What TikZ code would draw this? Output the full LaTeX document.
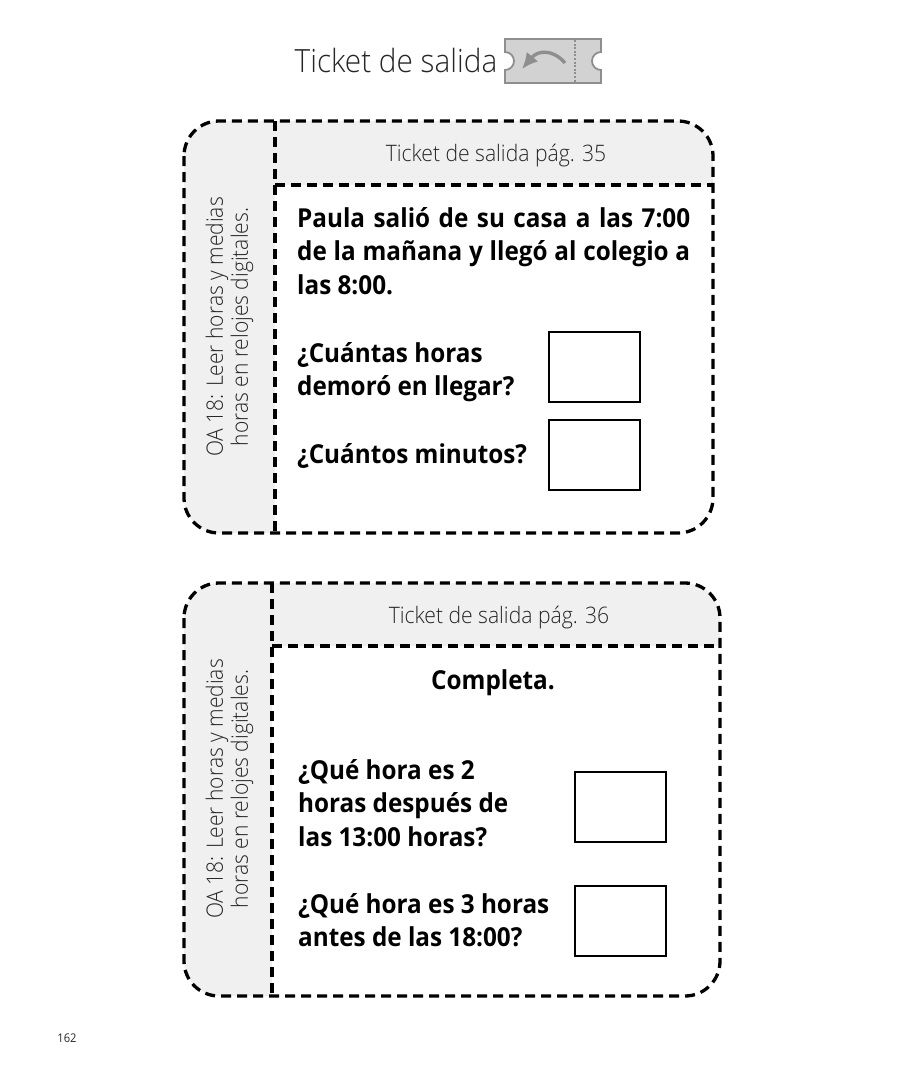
\documentclass[tikz,border=0pt]{standalone}
\usepackage{fontspec}
\setmainfont[FakeStretch=0.93]{Open Sans}
\newfontfamily\lightfont[FakeStretch=0.93]{Open Sans Light}
\usetikzlibrary{arrows.meta}
\definecolor{panelgray}{HTML}{F0F0F0}
\definecolor{ticketgray}{HTML}{D2D2D2}
\definecolor{ticketline}{HTML}{8E8E8E}
\begin{document}
\begin{tikzpicture}[x=1pt,y=-1pt,
cut/.style={line width=3.3pt,dash pattern=on 10pt off 6pt},
answer/.style={draw,line width=2pt,minimum width=91pt,minimum height=70pt,anchor=north west,inner sep=0pt},
head/.style={font=\lightfont\fontsize{22.7}{26}\selectfont,text=black!85},
side/.style={font=\lightfont\fontsize{22.6}{25}\selectfont,text=black!85,align=center,rotate=90},
ask/.style={font=\bfseries\fontsize{26.1}{33.6}\selectfont,align=left,anchor=north west,inner sep=0pt}]
\useasboundingbox (0,0) rectangle (903,1080);
% title
\node[font=\lightfont\fontsize{32}{36}\selectfont,text=black!85] (title) at (396,60) {Ticket de salida};
\draw[draw=ticketline,fill=ticketgray,line width=1.8pt] (505,39) -- (601,39) -- (601,52)
  arc[start angle=90,end angle=270,radius=9pt] -- (601,83) -- (505,83) -- (505,70)
  arc[start angle=-90,end angle=90,radius=9pt] -- cycle;
\draw[ticketline,line width=1.3pt,dash pattern=on 2pt off 1.6pt] (575,40) -- (575,82);
\draw[ticketline,line width=3.4pt,-{Latex[length=16pt,width=15pt]}] (565,63) .. controls (553,49) and (538,50) .. (522,69);
% first ticket
\fill[panelgray,rounded corners=35pt] (184,121) rectangle (713,533);
\fill[white] (275,185) -- (713,185) -- (713,498) arc[start angle=0,end angle=-90,radius=35pt] -- (275,533) -- cycle;
\draw[cut,rounded corners=35pt] (184,121) rectangle (713,533);
\draw[cut] (275,121) -- (275,533);
\draw[cut] (275,185) -- (713,185);
\node[head] (headA) at (496,156) {Ticket de salida pág. 35};
\node[side] (sideA) at (229.5,327) {OA 18: Leer horas y medias\\horas en relojes digitales.};
\node[ask] (textA) at (297,207) {\makebox[393pt][s]{Paula salió de su casa a las 7:00}\\\makebox[393pt][s]{de la mañana y llegó al colegio a}\\las 8:00.};
\node[ask] (askA) at (297,342) {¿Cuántas horas\\demoró en llegar?};
\node[ask] (askB) at (297,443) {¿Cuántos minutos?};
\node[answer] (boxA) at (548.2,330.8) {};
\node[answer] (boxB) at (548.2,418.8) {};
% second ticket
\fill[panelgray,rounded corners=35pt] (184,583) rectangle (720,996);
\fill[white] (272,646) -- (720,646) -- (720,961) arc[start angle=0,end angle=-90,radius=35pt] -- (272,996) -- cycle;
\draw[cut,rounded corners=35pt] (184,583) rectangle (720,996);
\draw[cut] (272,583) -- (272,996);
\draw[cut] (272,646) -- (720,646);
\node[head] (headB) at (499,618) {Ticket de salida pág. 36};
\node[side] (sideB) at (229.5,789) {OA 18: Leer horas y medias\\horas en relojes digitales.};
\node[ask,anchor=center] (textB) at (493,683) {Completa.};
\node[ask] (askC) at (298,759) {¿Qué hora es 2\\horas después de\\las 13:00 horas?};
\node[ask] (askD) at (298,893) {¿Qué hora es 3 horas\\antes de las 18:00?};
\node[answer] (boxC) at (574.2,770.8) {};
\node[answer] (boxD) at (574.2,884.8) {};
% page number
\node[font=\fontsize{12}{14}\selectfont,text=black!85] (page) at (67,1038) {162};
\end{tikzpicture}
\end{document}
